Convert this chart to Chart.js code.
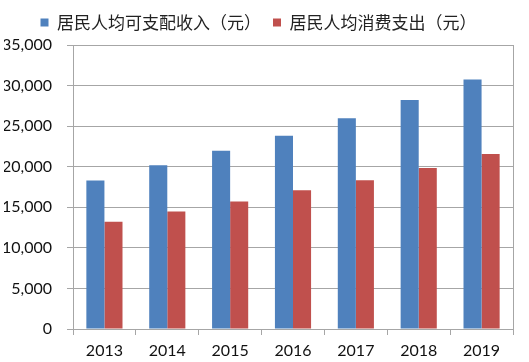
<!DOCTYPE html>
<html>
<head>
<meta charset="utf-8">
<script src="https://cdn.jsdelivr.net/npm/chart.js@4"></script>
<style>
  html, body { margin: 0; padding: 0; background: #fff; }
  #wrap { width: 529px; height: 362px; }
</style>
</head>
<body>
<div id="wrap"><canvas id="chart"></canvas></div>
<script>
const years = ['2013', '2014', '2015', '2016', '2017', '2018', '2019'];
const incomeLabel = '居民人均可支配收入（元）';
const spendLabel = '居民人均消费支出（元）';
const income = [18311, 20167, 21966, 23821, 25974, 28228, 30733];
const spend = [13220, 14491, 15712, 17111, 18322, 19853, 21559];
const yMax = 35000;
const yStep = 5000;

// right-hand edge of the plot frame
const frame = {
  id: 'frame',
  afterDraw(chart) {
    const { ctx, chartArea: a } = chart;
    ctx.save();
    ctx.strokeStyle = '#a6a6a6';
    ctx.lineWidth = 1;
    ctx.beginPath();
    ctx.moveTo(Math.round(a.right) + 0.5, a.top);
    ctx.lineTo(Math.round(a.right) + 0.5, a.bottom);
    ctx.stroke();
    ctx.restore();
  }
};

// a bit more room under the legend
const legendGap = {
  id: 'legendGap',
  beforeInit(chart) {
    const fit = chart.legend.fit;
    chart.legend.fit = function () {
      fit.bind(this)();
      this.height += 4;
    };
  }
};

new Chart(document.getElementById('chart'), {
  type: 'bar',
  data: {
    labels: years,
    datasets: [
      { label: incomeLabel, data: income, backgroundColor: '#4f81bd' },
      { label: spendLabel, data: spend, backgroundColor: '#c0504d' }
    ]
  },
  options: {
    responsive: true,
    maintainAspectRatio: false,
    animation: false,
    layout: { padding: { top: 2, right: 16, left: 4, bottom: 0 } },
    datasets: { bar: { categoryPercentage: 0.575, barPercentage: 1 } },
    plugins: {
      legend: {
        position: 'top',
        labels: {
          boxWidth: 8, boxHeight: 8, padding: 12,
          color: '#222',
          font: { family: '"Noto Sans CJK SC", sans-serif', size: 17 }
        }
      },
      tooltip: { enabled: false }
    },
    scales: {
      x: {
        offset: true,
        afterFit: s => { s.height = 33; },
        grid: { offset: true, drawOnChartArea: false, drawTicks: true, tickLength: 6, color: '#a6a6a6' },
        border: { color: '#a6a6a6' },
        ticks: { color: '#111', padding: 6, font: { family: 'Lato, sans-serif', size: 16 } }
      },
      y: {
        min: 0, max: yMax,
        afterFit: s => { s.width = 69; },
        grid: { color: '#a6a6a6', tickLength: 6 },
        border: { color: '#a6a6a6' },
        ticks: {
          stepSize: yStep, padding: 15, color: '#111',
          font: { family: 'Lato, sans-serif', size: 16 },
          callback: v => v.toLocaleString('en-US')
        }
      }
    }
  },
  plugins: [frame, legendGap]
});
</script>
</body>
</html>
